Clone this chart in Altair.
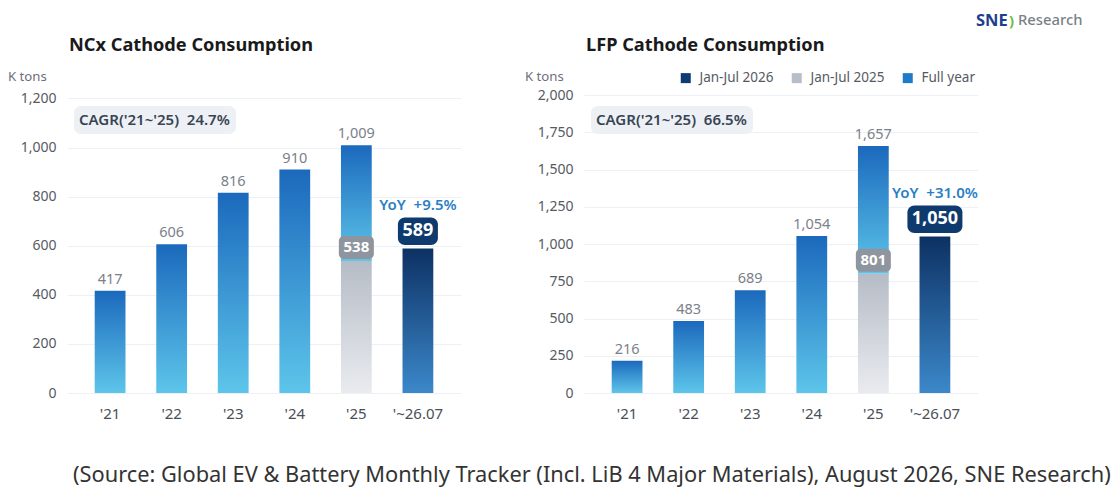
import altair as alt
import pandas as pd

FONT = "Noto Sans"

years = ["'21", "'22", "'23", "'24", "'25", "'~26.07"]
full_years = ["'21", "'22", "'23", "'24", "'25"]

ncx_full = [417, 606, 816, 910, 1009]
ncx_jan_jul_2025 = 538
ncx_jan_jul_2026 = 589
ncx_ticks = [0, 200, 400, 600, 800, 1000, 1200]
ncx_title = "NCx Cathode Consumption"
ncx_cagr = "CAGR('21~'25)\u00a0 24.7%"
ncx_yoy = "YoY\u00a0 +9.5%"

lfp_full = [216, 483, 689, 1054, 1657]
lfp_jan_jul_2025 = 801
lfp_jan_jul_2026 = 1050
lfp_ticks = [0, 250, 500, 750, 1000, 1250, 1500, 1750, 2000]
lfp_title = "LFP Cathode Consumption"
lfp_cagr = "CAGR('21~'25)\u00a0 66.5%"
lfp_yoy = "YoY\u00a0 +31.0%"

legend_labels = ["Jan-Jul 2026", "Jan-Jul 2025", "Full year"]
legend_colors = ["#0d3b73", "#b8bec8", "#1f7bc9"]

source = "(Source: Global EV & Battery Monthly Tracker (Incl. LiB 4 Major Materials), August 2026, SNE Research)"

W, H = 394, 298

def grad(top, bottom):
    return alt.Gradient(gradient="linear", x1=0, x2=0, y1=0, y2=1,
                        stops=[alt.GradientStop(color=top, offset=0),
                               alt.GradientStop(color=bottom, offset=1)])

g_blue = grad("#1b69bc", "#5dc5ea")
g_gray = grad("#b6bcc6", "#e9ebef")
g_navy = grad("#0d3163", "#3b88ca")


def panel(title, full, h25, h26, cagr, yoy, ticks, ymax, navy_w, legend=False, logo=False):
    x = alt.X("year:N", sort=years,
              scale=alt.Scale(domain=years, paddingInner=0.5, paddingOuter=0.45),
              axis=alt.Axis(title=None, labelAngle=0, labelFontSize=15, labelColor="#4a4f57",
                            labelPadding=13, domain=False, ticks=False, labelFont=FONT))
    yscale = alt.Scale(domain=[0, ymax], nice=False)
    yaxis = alt.Axis(title=None, values=ticks, tickCount=len(ticks), format=",d",
                     labelFontSize=14, labelColor="#555b63", labelOverlap=False,
                     labelPadding=11, labelFont=FONT, domain=False, ticks=False,
                     gridColor="#edf0f5", gridWidth=1.2)

    def Y(field):
        return alt.Y(field, scale=yscale, axis=yaxis)

    full_df = pd.DataFrame({"year": full_years, "y0": [0, 0, 0, 0, h25], "y1": full})
    h25_df = pd.DataFrame({"year": ["'25"], "y0": [0], "y1": [h25]})
    h26_df = pd.DataFrame({"year": ["'~26.07"], "y0": [0], "y1": [h26]})
    note_df = pd.DataFrame({"title": [title], "cagr": [cagr], "unit": ["K tons"]})
    yoy_df = pd.DataFrame({"year": ["'~26.07"], "y1": [h26], "t": [yoy]})

    bars_full = alt.Chart(full_df).mark_bar(color=g_blue).encode(
        x=x, y=Y("y1:Q"), y2="y0:Q")
    labels_full = alt.Chart(full_df).mark_text(
        dy=-11, baseline="middle", fontSize=14.5, color="#7b8089", font=FONT).encode(
        x=x, y=Y("y1:Q"), text=alt.Text("y1:Q", format=",d"))
    bars_gray = alt.Chart(h25_df).mark_bar(color=g_gray).encode(
        x=x, y=Y("y1:Q"), y2="y0:Q")
    box_gray = alt.Chart(h25_df).mark_bar(
        color="#8f959e", cornerRadius=5, width=35, yOffset=-25, y2Offset=-2).encode(
        x=x, y=Y("y1:Q"), y2="y1:Q")
    text_gray = alt.Chart(h25_df).mark_text(
        dy=-13.5, baseline="middle", fontSize=15, fontWeight="bold", color="white", font=FONT).encode(
        x=x, y=Y("y1:Q"), text=alt.Text("y1:Q", format=",d"))
    bars_navy = alt.Chart(h26_df).mark_bar(color=g_navy).encode(
        x=x, y=Y("y1:Q"), y2="y0:Q")
    box_navy = alt.Chart(h26_df).mark_bar(
        color="#0f3a6e", cornerRadius=7, width=navy_w, yOffset=-31, y2Offset=-3.5).encode(
        x=x, y=Y("y1:Q"), y2="y1:Q")
    text_navy = alt.Chart(h26_df).mark_text(
        dy=-17.3, baseline="middle", fontSize=18, fontWeight="bold", color="white", font=FONT).encode(
        x=x, y=Y("y1:Q"), text=alt.Text("y1:Q", format=",d"))
    text_yoy = alt.Chart(yoy_df).mark_text(
        dy=-43.7, baseline="middle", fontSize=15, fontWeight=600, color="#2b7fc5", font=FONT).encode(
        x=x, y=Y("y1:Q"), text="t:N")

    cagr_box = alt.Chart(note_df).mark_rect(color="#edf1f6", cornerRadius=7).encode(
        x=alt.value(7), x2=alt.value(169), y=alt.value(11), y2=alt.value(39))
    cagr_text = alt.Chart(note_df).mark_text(
        align="left", baseline="middle", fontSize=15, fontWeight=600, color="#3a4452", font=FONT).encode(
        x=alt.value(12), y=alt.value(25), text="cagr:N")
    title_text = alt.Chart(note_df).mark_text(
        align="left", baseline="middle", fontSize=18.2, fontWeight="bold", color="#1a1a1a", font=FONT).encode(
        x=alt.value(2), y=alt.value(-49.3), text="title:N")
    unit_text = alt.Chart(note_df).mark_text(
        align="left", baseline="middle", fontSize=13.2, color="#6b7078", font=FONT).encode(
        x=alt.value(-59), y=alt.value(-18.3), text="unit:N")
    # invisible element fixing the top edge of the layout
    top_edge = alt.Chart(note_df).mark_rule(opacity=0).encode(
        x=alt.value(0), y=alt.value(-86.3), y2=alt.value(-80))

    layers = [bars_full, bars_gray, bars_navy, labels_full, box_gray, text_gray,
              box_navy, text_navy, text_yoy, cagr_box, cagr_text, title_text, unit_text, top_edge]

    if legend:
        leg_df = pd.DataFrame({"series": legend_labels, "year": ["'~26.07", "'25", "'25"],
                               "v": [h26, h25, full[-1]]})
        leg = alt.Chart(leg_df).mark_square(opacity=0, size=1).encode(
            x=x, y=Y("v:Q"),
            color=alt.Color("series:N",
                            scale=alt.Scale(domain=legend_labels, range=legend_colors),
                            legend=alt.Legend(orient="none", legendX=95, legendY=-24,
                                              direction="horizontal", title=None,
                                              symbolType="square", symbolSize=100,
                                              symbolOpacity=1, symbolStrokeWidth=0,
                                              labelFontSize=13.5, labelColor="#555a61",
                                              labelFont=FONT, columnPadding=16,
                                              labelOffset=7, padding=0)))
        layers.append(leg)

    if logo:
        logo_df = pd.DataFrame({"a": ["SNE"], "b": [")"], "c": ["Research"]})
        layers.append(alt.Chart(logo_df).mark_text(
            align="left", baseline="middle", fontSize=16.5, fontWeight="bold",
            color="#1d3f8e", font=FONT).encode(x=alt.value(392), y=alt.value(-74), text="a:N"))
        layers.append(alt.Chart(logo_df).mark_text(
            align="left", baseline="middle", fontSize=15, fontWeight="bold",
            color="#6cbf3a", font=FONT).encode(x=alt.value(425), y=alt.value(-74), text="b:N"))
        layers.append(alt.Chart(logo_df).mark_text(
            align="left", baseline="middle", fontSize=14.8, fontWeight=500,
            color="#7b7f86", font=FONT).encode(x=alt.value(434), y=alt.value(-74), text="c:N"))

    return alt.layer(*layers).properties(width=W, height=H)


left = panel(ncx_title, ncx_full, ncx_jan_jul_2025, ncx_jan_jul_2026, ncx_cagr, ncx_yoy,
             ncx_ticks, 1214, 40)
right = panel(lfp_title, lfp_full, lfp_jan_jul_2025, lfp_jan_jul_2026, lfp_cagr, lfp_yoy,
              lfp_ticks, 2000, 55, legend=True, logo=True)

chart = alt.hconcat(left, right, spacing=64).resolve_scale(
    x="independent", y="independent", color="independent").properties(
    padding=0,
    title=alt.TitleParams(text=source, orient="bottom", anchor="start", dx=65, offset=44,
                          fontSize=21.8, font=FONT, fontWeight="normal", color="#333333")
).configure_view(stroke=None)

chart.save("out.html", embed_options={"renderer": "svg", "actions": False})
